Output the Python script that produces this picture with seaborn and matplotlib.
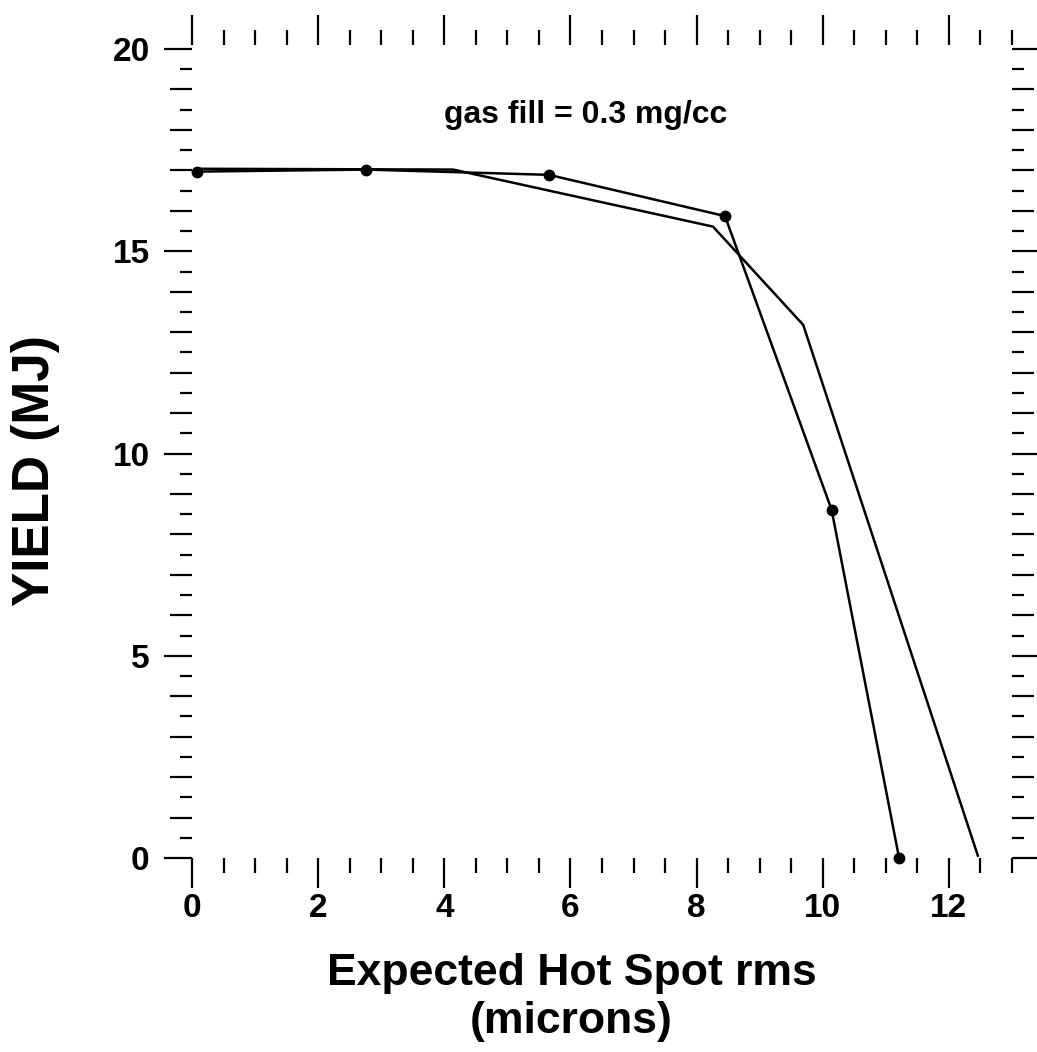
import numpy as np
import pandas as pd
import matplotlib
matplotlib.use("Agg")
import matplotlib.pyplot as plt
from matplotlib.ticker import FixedLocator, MultipleLocator, FuncFormatter
import seaborn as sns

sns.set_style("white")
plt.rcParams['font.family'] = ['Liberation Sans', 'DejaVu Sans']
plt.rcParams['font.weight'] = 'bold'
plt.rcParams['text.color'] = 'black'
plt.rcParams['axes.labelcolor'] = 'black'
plt.rcParams['xtick.color'] = 'black'
plt.rcParams['ytick.color'] = 'black'

# run with points marked
rms_dots = [0.08, 2.76, 5.66, 8.45, 10.14, 11.21]
yield_dots = [16.97, 17.02, 16.89, 15.87, 8.61, 0.0]

# run without markers
rms_line = [0.08, 4.14, 8.26, 9.69, 12.46]
yield_line = [17.04, 17.02, 15.61, 13.18, 0.05]

annot = "gas fill = 0.3 mg/cc"

fig = plt.figure(figsize=(10.37, 10.52), dpi=100)
ax = fig.add_axes([192/1037, 1 - 858/1052, (1012-192)/1037, (858-45)/1052])

df_dots = pd.DataFrame({'rms': rms_dots, 'yld': yield_dots})
df_line = pd.DataFrame({'rms': rms_line, 'yld': yield_line})

sns.lineplot(data=df_line, x='rms', y='yld', color='black', linewidth=1.8,
             ax=ax, clip_on=False)
sns.lineplot(data=df_dots, x='rms', y='yld', color='black', linewidth=1.8,
             marker='o', markersize=8.5, markeredgewidth=0, ax=ax, clip_on=False)

ax.set_xlim(0, 13)
ax.set_ylim(0, 20.1)

for s in ax.spines.values():
    s.set_visible(False)

ax.xaxis.set_major_locator(FixedLocator([0, 2, 4, 6, 8, 10, 12]))
ax.xaxis.set_minor_locator(MultipleLocator(0.5))
ax.yaxis.set_major_locator(FixedLocator(list(range(0, 21))))
ax.yaxis.set_minor_locator(FixedLocator(list(np.arange(0.5, 20, 1.0))))
ax.yaxis.set_major_formatter(FuncFormatter(lambda v, p: '%d' % v if v % 5 == 0 else ''))

ax.tick_params(which='both', direction='out', top=True, right=True, bottom=True, left=True,
               labeltop=False, labelright=False, color='black', width=1.6)
ax.tick_params(axis='x', which='major', length=21.5, labelsize=24, pad=4)
ax.tick_params(axis='x', which='minor', length=10.5)
ax.tick_params(axis='y', which='major', length=20.5, labelsize=24, pad=10)
ax.tick_params(axis='y', which='minor', length=8.5)

# medium ticks on whole numbers, long ones every 5
for t, v in zip(ax.yaxis.get_major_ticks(), ax.yaxis.get_majorticklocs()):
    if v % 5 != 0:
        t.tick1line.set_markersize(16)
        t.tick2line.set_markersize(16)

ax.text(6.24, 18.18, annot, fontsize=23, fontweight='bold', ha='center', va='baseline')

ax.set_xlabel("Expected Hot Spot rms\n(microns)", fontsize=32, fontweight='bold',
              linespacing=1.2)
ax.xaxis.set_label_coords(0.463, -0.117)
ax.set_ylabel("YIELD (MJ)", fontsize=37, fontweight='bold')
ax.yaxis.set_label_coords(-0.161, 0.476)

plt.savefig("out.png", dpi=100)
